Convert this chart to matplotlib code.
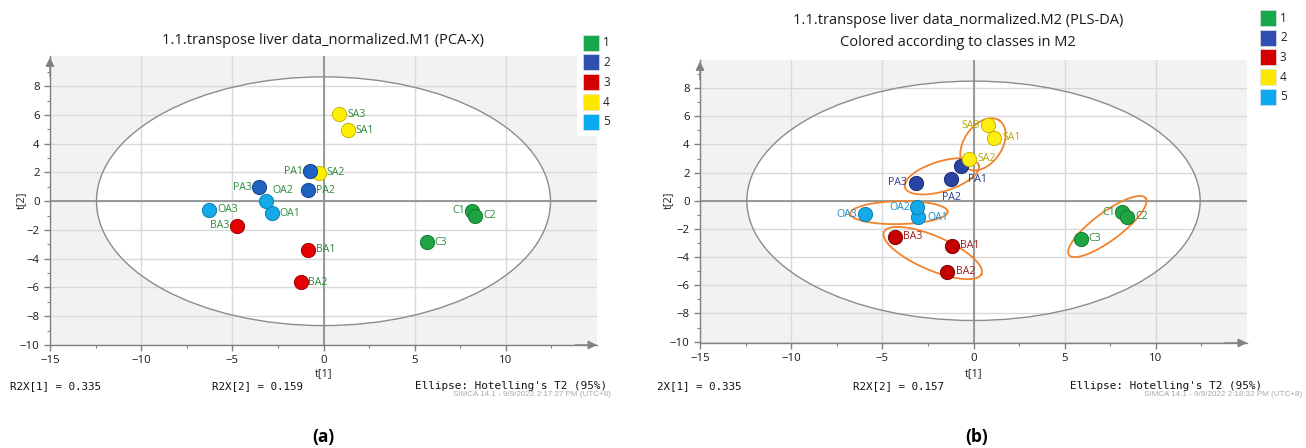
import numpy as np
import matplotlib
matplotlib.use("Agg")
import matplotlib.pyplot as plt
from matplotlib.patches import Ellipse, Rectangle

# ---------------- data ----------------
sample_names = ['C1', 'C2', 'C3', 'PA1', 'PA2', 'PA3', 'BA1', 'BA2', 'BA3',
                'SA1', 'SA2', 'SA3', 'OA1', 'OA2', 'OA3']
sample_class = [1, 1, 1, 2, 2, 2, 3, 3, 3, 4, 4, 4, 5, 5, 5]

pca_t1 = [8.13, 8.33, 5.66, -0.73, -0.87, -3.53, -0.86, -1.22, -4.76,
          1.33, -0.26, 0.87, -2.85, -3.13, -6.27]
pca_t2 = [-0.65, -1.00, -2.86, 2.07, 0.77, 0.98, -3.37, -5.65, -1.69,
          4.93, 1.98, 6.05, -0.84, 0.00, -0.58]

pls_t1 = [8.15, 8.42, 5.88, -0.71, -1.22, -3.16, -1.16, -1.45, -4.31,
          1.11, -0.22, 0.78, -3.04, -3.09, -5.95]
pls_t2 = [-0.82, -1.13, -2.70, 2.48, 1.53, 1.28, -3.19, -5.03, -2.55,
          4.47, 3.00, 5.37, -1.18, -0.47, -0.94]

legend_classes = ['1', '2', '3', '4', '5']

pca_r2x = ['R2X[1] = 0.335', 'R2X[2] = 0.159']
pls_r2x = ['2X[1] = 0.335', 'R2X[2] = 0.157']

# Hotelling T2 (95%) ellipse semi-axes
pca_t2_ellipse = (12.45, 8.65)
pls_t2_ellipse = (12.43, 8.50)

# class ellipses in PLS-DA plot: major-axis end points (t1, t2) and minor semi-axis
group_ell_p1 = [(5.24, -3.85), (-3.76, 0.95), (-4.91, -2.22), (-0.38, 2.32), (-6.76, -0.91)]
group_ell_p2 = [(9.44, 0.19), (0.29, 2.53), (0.44, -5.20), (1.42, 5.70), (-1.42, -0.77)]
group_ell_minor = [14, 15, 17, 19, 11.5]

# ---------------- styles ----------------
pt_colors_a = {1: '#1fa443', 2: '#1f62c2', 3: '#e30000', 4: '#fff000', 5: '#14aaea'}
pt_colors_b = {1: '#1fa443', 2: '#2a44a6', 3: '#c40000', 4: '#ffee10', 5: '#14aaea'}
edge_a = {1: '#137a2e', 2: '#16458a', 3: '#a00000', 4: '#c8b800', 5: '#0c80b0'}
edge_b = {1: '#137a2e', 2: '#1a2c70', 3: '#800000', 4: '#c8b800', 5: '#0c80b0'}
txt_b = {1: '#2a8a3a', 2: '#2a3a8c', 3: '#a01818', 4: '#b5a800', 5: '#1a8cc8'}
leg_colors = ['#16a84a', '#2f4fb0', '#d40000', '#ffe800', '#0aaaf0']

# label offsets in pixels (dx, dy up positive) and alignment
lab_a = {'C1': (-7, 0, 'right'), 'C2': (8, 0, 'left'), 'C3': (8, 0, 'left'),
         'PA1': (-7, 0, 'right'), 'PA2': (8, 0, 'left'), 'PA3': (-7, 0, 'right'),
         'BA1': (8, 0, 'left'), 'BA2': (7, 0, 'left'), 'BA3': (-7, 0, 'right'),
         'SA1': (8, 0, 'left'), 'SA2': (8, 0, 'left'), 'SA3': (8, 0, 'left'),
         'OA1': (8, 0, 'left'), 'OA2': (6, 11, 'left'), 'OA3': (8, 0, 'left')}
lab_b = {'C1': (-7, 0, 'right'), 'C2': (8, 0, 'left'), 'C3': (8, 0, 'left'),
         'PA1': (7, -14, 'left'), 'PA2': (0, -18, 'center'), 'PA3': (-9, 0, 'right'),
         'BA1': (8, 0, 'left'), 'BA2': (9, 0, 'left'), 'BA3': (8, 0, 'left'),
         'SA1': (9, 0, 'left'), 'SA2': (8, 0, 'left'), 'SA3': (-8, 0, 'right'),
         'OA1': (9, 0, 'left'), 'OA2': (-7, 0, 'right'), 'OA3': (-8, 0, 'right')}

W, H = 1306, 448
fig = plt.figure(figsize=(W / 100, H / 100), dpi=100)
fig.patch.set_facecolor('white')

UI = ['Open Sans', 'DejaVu Sans']
MONO = ['DejaVu Sans Mono']
GRAY = '#808080'


def px_axes(l, t, r, b):
    return fig.add_axes([l / W, 1 - b / H, (r - l) / W, (b - t) / H])


def setup(ax, ylim, ell):
    ax.set_xlim(-15, 15)
    ax.set_ylim(*ylim)
    ax.set_facecolor('#f2f2f2')
    ax.set_axisbelow(True)
    for s in ['top', 'right']:
        ax.spines[s].set_visible(False)
    for s in ['left', 'bottom']:
        ax.spines[s].set_color(GRAY)
        ax.spines[s].set_linewidth(1.0)
    ax.set_xticks([-15, -10, -5, 0, 5, 10])
    ax.set_xticks(np.arange(-12.5, 15, 2.5), minor=True)
    ax.set_yticks(np.arange(-10, 9, 2))
    ax.set_yticks(np.arange(-9, 10, 1), minor=True)
    ax.tick_params(which='major', length=4, color=GRAY, labelsize=8.2,
                   labelcolor='#1a1a1a', width=1)
    ax.tick_params(which='minor', length=2.5, color=GRAY, width=0.8)
    for lab in ax.get_xticklabels() + ax.get_yticklabels():
        lab.set_family(UI)
    ax.xaxis.grid(True, color='#d9d9d9', lw=1)
    ax.yaxis.grid(True, color='#d9d9d9', lw=1)
    ax.add_patch(Ellipse((0, 0), 2 * ell[0], 2 * ell[1], facecolor='white',
                         edgecolor='none', zorder=0.3))
    ax.add_patch(Ellipse((0, 0), 2 * ell[0], 2 * ell[1], facecolor='none',
                         edgecolor='#8c8c8c', lw=1.0, zorder=1.2))
    ax.axhline(0, color='#8a8a8a', lw=1.2, zorder=1.1)
    ax.axvline(0, color='#8a8a8a', lw=1.2, zorder=1.1)
    ax.annotate('', xy=(1.0, 0), xytext=(0.96, 0), xycoords='axes fraction',
                arrowprops=dict(arrowstyle='-|>', color=GRAY, lw=1,
                                mutation_scale=13, shrinkA=0, shrinkB=0),
                annotation_clip=False)
    ax.annotate('', xy=(0, 0.995), xytext=(0, 0.93), xycoords='axes fraction',
                arrowprops=dict(arrowstyle='-|>', color=GRAY, lw=1,
                                mutation_scale=13, shrinkA=0, shrinkB=0),
                annotation_clip=False)


def scatter(ax, t1, t2, colors, edges, labs, txtcol, order):
    for i in order:
        c = sample_class[i]
        ax.scatter(t1[i], t2[i], s=105, color=colors[c], edgecolors=edges[c],
                   linewidths=0.7, zorder=3 + 0.01 * order.index(i))
        dx, dy, ha = labs[sample_names[i]]
        tc = txtcol if isinstance(txtcol, str) else txtcol[c]
        ax.annotate(sample_names[i], (t1[i], t2[i]), xytext=(dx * 0.72, dy * 0.72),
                    textcoords='offset points', ha=ha, va='center',
                    fontsize=7.6, color=tc, family=UI, zorder=5)


def group_ellipse(ax, p1, p2, minor_px, **kw):
    T = ax.transData
    d1 = T.transform(p1)
    d2 = T.transform(p2)
    c = (d1 + d2) / 2
    v = (d2 - d1) / 2
    a = np.hypot(*v)
    u = v / a
    n = np.array([-u[1], u[0]])
    t = np.linspace(0, 2 * np.pi, 300)
    pts = c + np.outer(a * np.cos(t), u) + np.outer(minor_px * np.sin(t), n)
    d = T.inverted().transform(pts)
    ax.plot(d[:, 0], d[:, 1], **kw)


# ---------------- panel (a) ----------------
axa = px_axes(50, 56, 597, 345)
setup(axa, (-10, 10.1), pca_t2_ellipse)
order_a = [10, 0, 1, 2, 3, 4, 5, 6, 7, 8, 9, 11, 12, 13, 14]
scatter(axa, pca_t1, pca_t2, pt_colors_a, edge_a, lab_a, '#2a8a3a', order_a)

# ---------------- panel (b) ----------------
axb = px_axes(700, 60, 1247, 343)
setup(axb, (-10.1, 10.0), pls_t2_ellipse)
order_b = [0, 1, 2, 3, 4, 5, 6, 7, 8, 9, 10, 11, 12, 13, 14]
scatter(axb, pls_t1, pls_t2, pt_colors_b, edge_b, lab_b, txt_b, order_b)
for p1, p2, m in zip(group_ell_p1, group_ell_p2, group_ell_minor):
    group_ellipse(axb, p1, p2, m, color='#f0832d', lw=1.3, zorder=2.5)

# ---------------- overlay texts ----------------
ov = fig.add_axes([0, 0, 1, 1], zorder=10)
ov.set_xlim(0, W)
ov.set_ylim(H, 0)
ov.axis('off')
ov.patch.set_alpha(0)

ov.text(323.5, 40, '1.1.transpose liver data_normalized.M1 (PCA-X)', ha='center',
        va='center', fontsize=10.5, family=UI, color='#1a1a1a')
ov.text(958, 21, '1.1.transpose liver data_normalized.M2 (PLS-DA)', ha='center',
        va='center', fontsize=10.5, family=UI, color='#1a1a1a')
ov.text(958, 42, 'Colored according to classes in M2', ha='center',
        va='center', fontsize=10.5, family=UI, color='#1a1a1a')

for cx, lab in [(324, 't[1]'), (974, 't[1]')]:
    ov.text(cx, 374, lab, ha='center', va='center', fontsize=7.8, family=UI, color='#222222')
for cx in [21, 668]:
    ov.text(cx, 200, 't[2]', ha='center', va='center', rotation=90, fontsize=7.8,
            family=UI, color='#222222')

ov.text(10, 386, pca_r2x[0], ha='left', va='center', fontsize=7.8, family=MONO, color='#111111')
ov.text(212, 386, pca_r2x[1], ha='left', va='center', fontsize=7.8, family=MONO, color='#111111')
ov.text(415, 386, "Ellipse: Hotelling's T2 (95%)", ha='left', va='center', fontsize=7.9,
        family=MONO, color='#111111')
ov.text(611, 394, 'SIMCA 14.1 - 9/9/2022 2:17:27 PM (UTC+8)', ha='right', va='center',
        fontsize=5.8, family=['Liberation Sans'], color='#a8a8a8')

ov.text(657, 386, pls_r2x[0], ha='left', va='center', fontsize=7.8, family=MONO, color='#111111')
ov.text(853, 386, pls_r2x[1], ha='left', va='center', fontsize=7.8, family=MONO, color='#111111')
ov.text(1070, 386, "Ellipse: Hotelling's T2 (95%)", ha='left', va='center', fontsize=7.9,
        family=MONO, color='#111111')
ov.text(1302, 394, 'SIMCA 14.1 - 9/9/2022 2:18:32 PM (UTC+8)', ha='right', va='center',
        fontsize=5.8, family=['Liberation Sans'], color='#a8a8a8')

ov.text(323, 437, '(a)', ha='center', va='center', fontsize=12.5, fontweight='bold',
        family=UI, color='black')
ov.text(977, 437, '(b)', ha='center', va='center', fontsize=12.5, fontweight='bold',
        family=UI, color='black')

# legends
ov.add_patch(Rectangle((577, 30), 33, 106, facecolor='white', edgecolor='none'))
for k, (lab, col) in enumerate(zip(legend_classes, leg_colors)):
    y = 42.7 + 19.8 * k
    ov.add_patch(Rectangle((583, y - 8), 16, 16, facecolor=col, edgecolor='#e0e0e0', lw=0.5))
    ov.text(603, y, lab, ha='left', va='center', fontsize=8.5, family=UI, color='#222222')
    y2 = 18.3 + 19.6 * k
    ov.add_patch(Rectangle((1260, y2 - 8), 16, 16, facecolor=col, edgecolor='#e0e0e0', lw=0.5))
    ov.text(1280, y2, lab, ha='left', va='center', fontsize=8.5, family=UI, color='#222222')

fig.savefig('out.png', dpi=100, facecolor='white')
